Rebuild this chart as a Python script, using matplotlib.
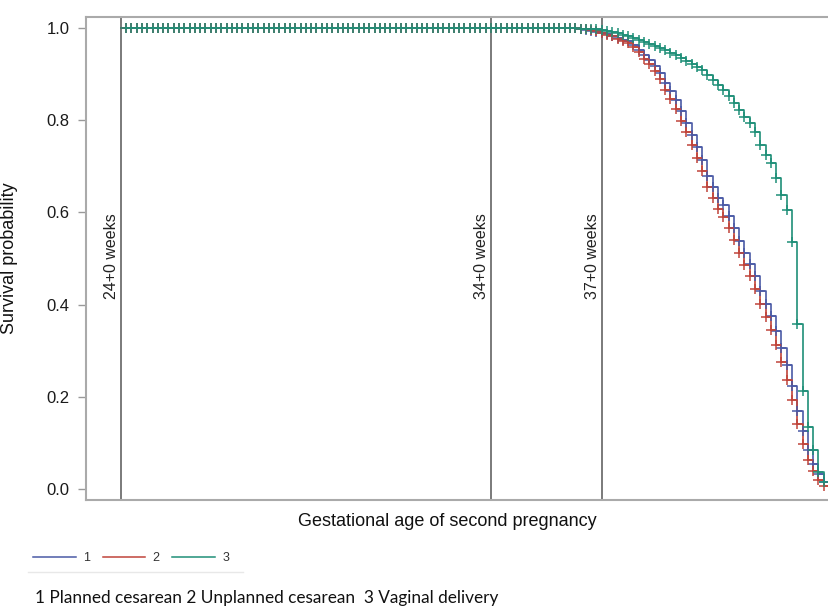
import matplotlib
matplotlib.use('Agg')
import matplotlib.pyplot as plt
from matplotlib.lines import Line2D

# ---- data (x in days of gestation) ----
early_days = list(range(168, 255))          # 24+0 weeks .. 36+2 weeks : survival ~1.0
late_days = list(range(255, 303))

early_surv = [1.0] * len(early_days)

surv_planned = [0.998, 0.996, 0.994, 0.992, 0.990, 0.987, 0.983, 0.979, 0.975, 0.972,
                0.964, 0.953, 0.941, 0.930, 0.918, 0.902, 0.881, 0.863, 0.844, 0.819,
                0.795, 0.768, 0.742, 0.713, 0.678, 0.656, 0.632, 0.615, 0.592, 0.566,
                0.538, 0.512, 0.489, 0.461, 0.430, 0.402, 0.375, 0.343, 0.306, 0.268,
                0.224, 0.170, 0.125, 0.084, 0.055, 0.032, 0.014, 0.000]
surv_unplanned = [0.998, 0.997, 0.995, 0.993, 0.990, 0.986, 0.982, 0.977, 0.972, 0.967,
                  0.958, 0.947, 0.933, 0.921, 0.907, 0.889, 0.866, 0.846, 0.825, 0.799,
                  0.775, 0.746, 0.719, 0.689, 0.655, 0.632, 0.608, 0.590, 0.566, 0.540,
                  0.512, 0.486, 0.461, 0.433, 0.402, 0.374, 0.345, 0.313, 0.276, 0.236,
                  0.192, 0.140, 0.098, 0.062, 0.038, 0.020, 0.007, 0.000]
surv_vaginal = [0.999, 0.999, 0.998, 0.997, 0.996, 0.993, 0.991, 0.989, 0.985, 0.983,
                0.978, 0.974, 0.970, 0.965, 0.961, 0.957, 0.952, 0.946, 0.941, 0.935,
                0.928, 0.922, 0.915, 0.909, 0.898, 0.887, 0.876, 0.866, 0.852, 0.837,
                0.822, 0.807, 0.794, 0.774, 0.746, 0.725, 0.707, 0.675, 0.638, 0.605,
                0.536, 0.358, 0.213, 0.134, 0.085, 0.037, 0.015, 0.000]

groups = ['1', '2', '3']
group_names = '1 Planned cesarean 2 Unplanned cesarean  3 Vaginal delivery'
colors = ['#4a5aa6', '#c0443a', '#1f8f78']

ref_days = [168, 238, 259]
ref_labels = ['24+0 weeks', '34+0 weeks', '37+0 weeks']

yticks = [0.0, 0.2, 0.4, 0.6, 0.8, 1.0]
ytick_labels = ['0.0', '0.2', '0.4', '0.6', '0.8', '1.0']

# ---- figure ----
fig = plt.figure(figsize=(8.29, 6.06), dpi=100)
ax = fig.add_axes([86/829, 1-500/606, 1-86/829, (500-17)/606])

series = [surv_planned, surv_unplanned, surv_vaginal]
for vals, col in zip(series, colors):
    d = early_days + late_days
    v = early_surv + vals
    ax.step(d, v, where='post', color=col, lw=1.2, zorder=3)
    ax.plot(d[1:-1], v[1:-1], ls='none', marker='+', ms=7.5, mew=1.1, color=col, zorder=4)

for d, lab in zip(ref_days, ref_labels):
    ax.axvline(d, color='#7a7a7a', lw=1.4, zorder=2)
    ax.text(d - 1.8, 0.505, lab, rotation=90, ha='center', va='center',
            fontsize=11.5, color='#222222', family='Liberation Sans')

ax.set_xlim(161.4, 302.0)
ax.set_ylim(-0.024, 1.024)
ax.set_xticks([])
ax.set_yticks(yticks)
ax.set_yticklabels(ytick_labels, family='Liberation Sans', fontsize=12, color='#1a1a1a')
ax.tick_params(axis='y', length=6, width=1, color='#999999', pad=6)

for s in ['left', 'top', 'bottom']:
    ax.spines[s].set_color('#aaaaaa')
    ax.spines[s].set_linewidth(1.5)
ax.spines['right'].set_visible(False)

ax.set_ylabel('Survival probability', family='Liberation Sans', fontsize=13, color='#111111')
ax.yaxis.set_label_coords((18-86)/743, 0.5)

fig.text(447/829, 1-522/606, 'Gestational age of second pregnancy', ha='center', va='center',
         family='Liberation Sans', fontsize=13, color='#111111')

handles = [Line2D([], [], color=c, lw=1.1) for c in colors]
fig.legend(handles, groups, loc='center left', bbox_to_anchor=(22/829, 1-558/606), ncol=3,
           frameon=False, handlelength=3.4, columnspacing=1.0, handletextpad=0.6,
           prop={'family': 'Liberation Sans', 'size': 9}, labelcolor='#333333')
fig.add_artist(Line2D([28/829, 243/829], [1-572/606, 1-572/606], color='#e8e8e8', lw=1))

fig.text(35/829, 1-598/606, group_names, ha='left', va='center', family='Lato',
         fontsize=12.4, color='#111111')

fig.savefig('out.png', dpi=100)
